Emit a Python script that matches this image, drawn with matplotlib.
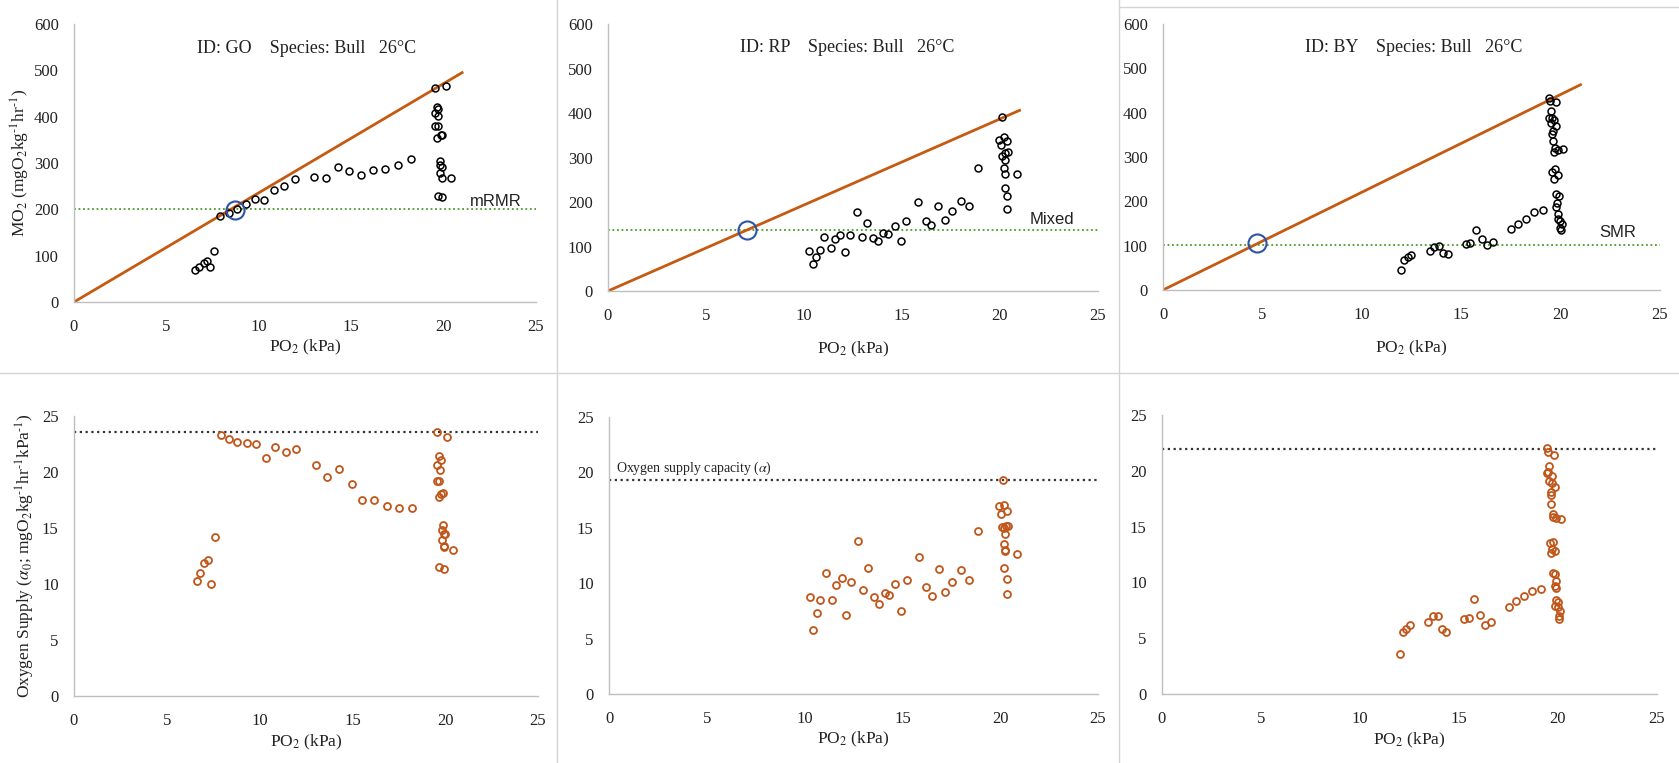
import numpy as np
import matplotlib
matplotlib.use("Agg")
import matplotlib.pyplot as plt
from matplotlib.lines import Line2D

plt.rcParams['font.family'] = ['Liberation Serif', 'DejaVu Serif']
plt.rcParams['mathtext.fontset'] = 'stix'

# ---- data ----
# fish GO
go_po2 = [6.55, 6.78, 7.01, 7.17, 7.36, 7.55, 7.90, 8.38, 8.81, 9.29, 9.77, 10.29, 10.81, 11.35,
          11.97, 13.01, 13.63, 14.30, 14.90, 15.54, 16.19, 16.85, 17.54, 18.21,
          19.55, 20.14, 19.66, 19.70, 19.55, 19.70, 19.51, 19.70, 19.66, 19.85, 19.90,
          19.82, 19.82, 19.93, 19.82, 19.93, 20.41, 19.70, 19.93]
go_mo2 = [69, 75, 85, 89, 75, 109, 186, 193, 200, 211, 222, 220, 241, 251,
          265, 269, 267, 292, 283, 274, 285, 286, 295, 308,
          462, 467, 420, 417, 408, 401, 379, 379, 354, 361, 360,
          305, 296, 292, 278, 267, 267, 228, 227]
go_a_po2 = [6.62, 6.81, 7.00, 7.20, 7.39, 7.60, 7.91, 8.36, 8.80, 9.31, 9.81, 10.33, 10.85, 11.40,
            11.98, 13.02, 13.64, 14.30, 14.96, 15.54, 16.18, 16.85, 17.53, 18.23,
            19.58, 20.12, 19.64, 19.56, 19.79, 19.74, 19.58, 19.66, 19.68, 19.79, 19.89,
            19.87, 19.83, 19.93, 19.97, 19.85, 19.93, 19.93, 20.41, 19.68, 19.93]
go_alpha = [10.28, 11.0, 11.88, 12.15, 10.03, 14.24, 23.26, 22.91, 22.70, 22.58, 22.53, 21.26, 22.26, 21.83,
            22.02, 20.61, 19.55, 20.26, 18.90, 17.54, 17.54, 16.92, 16.76, 16.78,
            23.56, 23.10, 21.39, 20.66, 21.04, 20.17, 19.2, 19.2, 17.81, 18.03, 18.11,
            15.27, 14.86, 14.50, 14.45, 13.96, 13.42, 13.3, 13.01, 11.55, 11.36]

# fish RP
rp_po2 = [10.27, 10.45, 10.59, 10.81, 11.04, 11.39, 11.60, 11.86, 12.11, 12.35, 12.71, 12.98,
          13.23, 13.50, 13.79, 14.05, 14.30, 14.62, 14.93, 15.22, 15.82, 16.22, 16.50, 16.85,
          17.17, 17.55, 17.99, 18.40, 18.87, 20.12, 19.94, 20.06, 20.21, 20.35, 20.08, 20.23,
          20.41, 20.25, 20.21, 20.26, 20.88, 20.23, 20.35, 20.35]
rp_mo2 = [91, 61, 77, 92, 121, 97, 116, 126, 87, 126, 177, 122,
          152, 120, 113, 130, 128, 146, 113, 158, 199, 158, 148, 192,
          160, 179, 202, 190, 277, 391, 340, 329, 346, 338, 304, 310,
          312, 295, 276, 264, 264, 231, 214, 185]
rp_a_po2 = [10.27, 10.45, 10.61, 10.79, 11.08, 11.40, 11.62, 11.89, 12.12, 12.37, 12.72, 13.00,
            13.26, 13.54, 13.80, 14.09, 14.34, 14.64, 14.93, 15.22, 15.85, 16.19, 16.52, 16.86,
            17.18, 17.56, 17.98, 18.39, 18.86, 20.12, 19.94, 20.05, 20.21, 20.35, 20.08, 20.21,
            20.32, 20.41, 20.23, 20.21, 20.26, 20.23, 20.88, 20.21, 20.35, 20.35]
rp_alpha = [8.75, 5.79, 7.31, 8.44, 10.88, 8.50, 9.88, 10.49, 7.09, 10.11, 13.79, 9.36,
            11.35, 8.75, 8.08, 9.14, 8.91, 9.91, 7.50, 10.27, 12.40, 9.69, 8.83, 11.30,
            9.22, 10.08, 11.19, 10.27, 14.70, 19.27, 16.97, 16.28, 17.05, 16.56, 15.06, 14.95,
            15.14, 15.17, 14.48, 13.54, 12.96, 12.90, 12.60, 11.38, 10.41, 9.05]

# fish BY
by_po2 = [11.98, 12.11, 12.32, 12.48, 13.41, 13.62, 13.87, 14.10, 14.32, 15.25, 15.46, 15.76,
          16.05, 16.30, 16.58, 17.51, 17.87, 18.26, 18.65, 19.12,
          19.40, 19.49, 19.79, 19.53, 19.44, 19.58, 19.67, 19.53, 19.79, 19.62, 19.56, 19.62,
          19.70, 19.67, 19.88, 20.10, 19.74, 19.56, 19.85, 19.65, 19.79, 19.91, 19.83, 19.79,
          19.88, 19.85, 19.99, 20.06, 19.97, 20.01]
by_mo2 = [44, 68, 74, 78, 87, 96, 99, 84, 81, 103, 107, 136,
          114, 101, 108, 138, 150, 161, 175, 181,
          432, 427, 425, 404, 389, 388, 384, 376, 370, 359, 352, 337,
          321, 312, 316, 318, 272, 266, 259, 251, 216, 212, 197, 188,
          171, 161, 156, 148, 139, 135]
by_a_po2 = [12.01, 12.16, 12.34, 12.52, 13.44, 13.67, 13.92, 14.14, 14.32, 15.24, 15.49, 15.75,
            16.05, 16.32, 16.61, 17.53, 17.87, 18.27, 18.70, 19.16,
            19.46, 19.52, 19.79, 19.55, 19.46, 19.52, 19.70, 19.55, 19.70, 19.83, 19.64, 19.64,
            19.64, 19.73, 19.73, 19.91, 20.13, 19.59, 19.77, 19.70, 19.83, 19.64, 19.73, 19.86,
            19.88, 19.83, 19.91, 19.91, 20.02, 19.86, 19.99, 20.09, 20.04, 20.06]
by_alpha = [3.57, 5.59, 5.83, 6.19, 6.41, 6.95, 6.98, 5.86, 5.59, 6.73, 6.79, 8.53,
            7.06, 6.22, 6.49, 7.82, 8.32, 8.75, 9.21, 9.41,
            22.0, 21.7, 21.46, 20.45, 19.77, 19.9, 19.5, 19.08, 18.9, 18.51, 18.08, 17.8,
            17.04, 16.17, 15.9, 15.76, 15.68, 13.55, 13.63, 13.0, 12.84, 12.62, 10.82, 10.71,
            10.14, 9.65, 9.49, 8.45, 8.23, 7.91, 7.82, 7.42, 7.01, 6.68]

ids = ["GO", "RP", "BY"]
rmr_names = ["mRMR", "Mixed", "SMR"]
rmr_level = [200, 137, 102]          # horizontal MO2 level
pcrit = [(8.71, 199), (7.10, 137), (4.73, 107)]   # blue circle
alpha_line_end = [(21.0, 495), (21.0, 406), (21.0, 463)]
alpha_cap = [23.56, 19.27, 21.95]

top_data = [(go_po2, go_mo2), (rp_po2, rp_mo2), (by_po2, by_mo2)]
bot_data = [(go_a_po2, go_alpha), (rp_a_po2, rp_alpha), (by_a_po2, by_alpha)]

# ---- layout (pixel boxes of the reference) ----
W, H = 1679, 763
fig = plt.figure(figsize=(W / 100, H / 100), dpi=100)

def box(x0, x1, ybot, ytop):
    return [x0 / W, 1 - ybot / H, (x1 - x0) / W, (ybot - ytop) / H]

top_boxes = [box(74, 536, 302, 24), box(608, 1098, 291, 24), box(1163, 1660, 290, 24)]
bot_boxes = [box(74, 538, 696, 416), box(609, 1098, 694, 417), box(1162, 1657, 694, 415)]

orange = '#c55a11'
brown = '#c0561a'
spine_c = '#bfbfbf'
tick_fs = 12

def style(ax, ymax, ystep):
    for s in ['top', 'right']:
        ax.spines[s].set_visible(False)
    for s in ['left', 'bottom']:
        ax.spines[s].set_color(spine_c)
        ax.spines[s].set_linewidth(1.0)
    ax.set_xlim(0, 25)
    ax.set_ylim(0, ymax)
    ax.set_xticks(np.arange(0, 26, 5))
    ax.set_yticks(np.arange(0, ymax + 1, ystep))
    ax.tick_params(length=0, labelsize=tick_fs, colors='#222222')
    ax.tick_params(axis='x', pad=12)
    ax.tick_params(axis='y', pad=11)

top_xlab_y = [-0.165, -0.22, -0.218]
bot_xlab_y = [-0.165, -0.165, -0.165]
lbl_x = [22.8, 22.65, 22.86]
lbl_y = [217, 160, 129]
title_x = [12.6, 12.2, 12.6]

for i in range(3):
    ax = fig.add_axes(top_boxes[i])
    style(ax, 600, 100)
    ax.axhline(rmr_level[i], color='#4e9a2a', lw=1.3, ls=(0, (1, 1.5)))
    ax.plot([0, alpha_line_end[i][0]], [0, alpha_line_end[i][1]], color=orange, lw=2.0)
    x, y = top_data[i]
    ax.plot(x, y, 'o', ls='none', mfc='none', mec='black', ms=5, mew=1.1)
    ax.plot(*pcrit[i], 'o', mfc='none', mec='#2e53a6', ms=13, mew=1.5)
    ax.text(lbl_x[i], lbl_y[i], rmr_names[i], family='Liberation Sans', fontsize=12,
            ha='center', va='center', color='#222222')
    ax.text(title_x[i], 547, f"ID: {ids[i]}    Species: Bull   26°C", fontsize=13,
            ha='center', va='center', color='#222222')
    ax.text(0.5, top_xlab_y[i], r"PO$_2$ (kPa)", transform=ax.transAxes, fontsize=12.5,
            ha='center', va='center', color='#222222')
    if i == 0:
        ax.text(-0.115, 0.5, r"MO$_2$ (mgO$_2$kg$^{\text{-1}}$hr$^{\text{-1}}$)",
                transform=ax.transAxes, rotation=90, fontsize=12.5,
                ha='center', va='center', color='#222222')

for i in range(3):
    ax = fig.add_axes(bot_boxes[i])
    style(ax, 25, 5)
    ax.axhline(alpha_cap[i], color='#333333', lw=1.6, ls=(0, (1, 1.6)))
    x, y = bot_data[i]
    ax.plot(x, y, 'o', ls='none', mfc='none', mec=brown, ms=5, mew=1.3)
    ax.text(0.5, bot_xlab_y[i], r"PO$_2$ (kPa)", transform=ax.transAxes, fontsize=12.5,
            ha='center', va='center', color='#222222')
    if i == 0:
        ax.text(-0.105, 0.5,
                r"Oxygen Supply ($\alpha_0$; mgO$_2$kg$^{\text{-1}}$hr$^{\text{-1}}$kPa$^{\text{-1}}$)",
                transform=ax.transAxes, rotation=90, fontsize=12.5,
                ha='center', va='center', color='#222222')
    if i == 1:
        ax.text(0.36, 19.6, r"Oxygen supply capacity ($\alpha$)", fontsize=10,
                ha='left', va='bottom', color='#222222')

# panel separators
sep = '#d4d4d4'
fig.add_artist(Line2D([557 / W, 557 / W], [0, 1], color=sep, lw=1.0))
fig.add_artist(Line2D([1119 / W, 1119 / W], [0, 1], color=sep, lw=1.0))
fig.add_artist(Line2D([0, 1], [1 - 373 / H, 1 - 373 / H], color=sep, lw=1.0))
fig.add_artist(Line2D([1119 / W, 1], [1 - 7 / H, 1 - 7 / H], color=sep, lw=1.0))

fig.savefig("out.png", dpi=100, facecolor='white')
